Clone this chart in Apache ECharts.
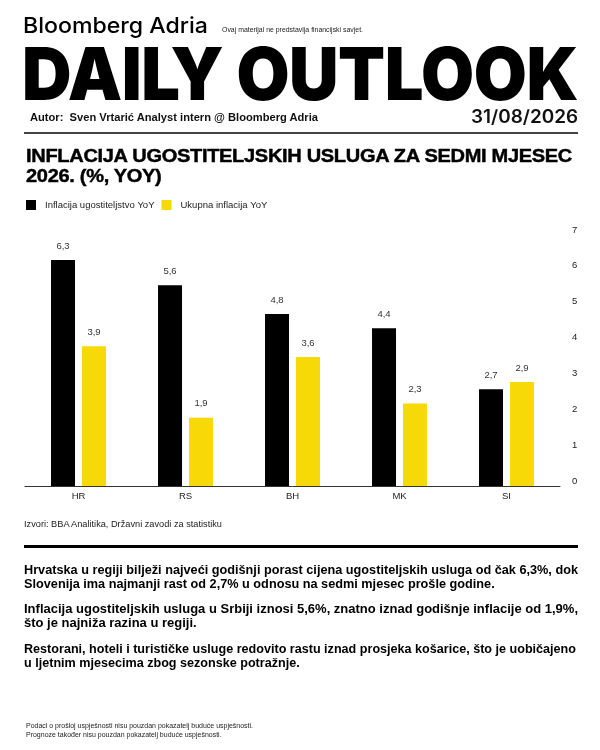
<!DOCTYPE html>
<html>
<head>
<meta charset="utf-8">
<script src="https://cdn.jsdelivr.net/npm/echarts@6/dist/echarts.min.js"></script>
<style>
  html, body { margin: 0; padding: 0; background: #fff; }
  #page { position: relative; width: 600px; height: 750px; overflow: hidden; background: #fff; }
  #chart { position: absolute; left: 0; top: 0; width: 600px; height: 750px; z-index: 0; }
  .t { position: absolute; white-space: nowrap; transform-origin: 0 50%; color: #000; z-index: 1; font-family: "Liberation Sans", Arial, sans-serif; }
  .rule { position: absolute; z-index: 1; }
  .heavy { -webkit-text-stroke: 0.45px #000; }
</style>
</head>
<body>
<div id="page">
  <div id="chart"></div>

  <div class="t" data-w="185" data-c="25" data-s="22" style="left:23px;font-family:Inter,'Liberation Sans',sans-serif;font-weight:500;">Bloomberg Adria</div>
  <div class="t" data-w="141" data-c="29" data-s="7" style="left:222px;color:#222;">Ovaj materijal ne predstavlja financijski savjet.</div>
  <div class="t" data-w="556" data-c="73.5" data-s="73" style="left:22px;font-family:Inter,'Liberation Sans',sans-serif;font-weight:900;letter-spacing:-0.5px;">DAILY OUTLOOK</div>
  <div class="t" data-w="288" data-c="117" data-s="11" style="left:30px;font-weight:bold;color:#111;">Autor:&nbsp; Sven Vrtarić Analyst intern @ Bloomberg Adria</div>
  <div class="t" data-w="107" data-c="117" data-s="18" style="left:471px;font-family:Inter,'Liberation Sans',sans-serif;font-weight:600;color:#111;">31/08/2026</div>
  <div class="rule" style="left:24px;top:132px;width:554px;height:2px;background:#444;"></div>

  <div class="t heavy" id="title1" data-w="546" data-c="155.5" data-s="19" style="left:26px;font-weight:bold;letter-spacing:-0.3px;">INFLACIJA UGOSTITELJSKIH USLUGA ZA SEDMI MJESEC</div>
  <div class="t heavy" data-ref="title1" data-c="175" data-s="19" style="left:26px;font-weight:bold;letter-spacing:-0.3px;">2026. (%, YOY)</div>

  <div class="t" data-w="198" data-c="524" data-s="9" style="left:24px;color:#222;">Izvori: BBA Analitika, Državni zavodi za statistiku</div>
  <div class="rule" style="left:24px;top:545px;width:554px;height:3px;background:#000;"></div>

  <div class="t" id="p1" data-w="554" data-c="570" data-s="13.3" style="left:24px;font-weight:bold;">Hrvatska u regiji bilježi najveći godišnji porast cijena ugostiteljskih usluga od čak 6,3%, dok</div>
  <div class="t" data-ref="p1" data-c="584" data-s="13.3" style="left:24px;font-weight:bold;">Slovenija ima najmanji rast od 2,7% u odnosu na sedmi mjesec prošle godine.</div>
  <div class="t" id="p2" data-w="554" data-c="609" data-s="13.3" style="left:24px;font-weight:bold;">Inflacija ugostiteljskih usluga u Srbiji iznosi 5,6%, znatno iznad godišnje inflacije od 1,9%,</div>
  <div class="t" data-ref="p2" data-c="623" data-s="13.3" style="left:24px;font-weight:bold;">što je najniža razina u regiji.</div>
  <div class="t" id="p3" data-w="552" data-c="649" data-s="13.3" style="left:24px;font-weight:bold;">Restorani, hoteli i turističke usluge redovito rastu iznad prosjeka košarice, što je uobičajeno</div>
  <div class="t" data-ref="p3" data-c="663" data-s="13.3" style="left:24px;font-weight:bold;">u ljetnim mjesecima zbog sezonske potražnje.</div>

  <div class="t" id="f1" data-w="227" data-c="725" data-s="7" style="left:26px;color:#222;">Podaci o prošloj uspješnosti nisu pouzdan pokazatelj buduće uspješnosti.</div>
  <div class="t" data-ref="f1" data-c="734" data-s="7" style="left:26px;color:#222;">Prognoze također nisu pouzdan pokazatelj buduće uspješnosti.</div>
</div>

<script>
// ---- data ----
const categories = ['HR', 'RS', 'BH', 'MK', 'SI'];
const hospitalityInflation = [6.3, 5.6, 4.8, 4.4, 2.7];
const totalInflation = [3.9, 1.9, 3.6, 2.3, 2.9];
const seriesNames = ['Inflacija ugostiteljstvo YoY', 'Ukupna inflacija YoY'];
const yAxisMin = 0;
const yAxisMax = 7;
const yAxisStep = 1;

// ---- text fitting ----
function layoutTexts() {
  const els = Array.from(document.querySelectorAll('.t'));
  const scales = {};
  els.forEach(el => {
    const s = parseFloat(el.dataset.s);
    const c = parseFloat(el.dataset.c);
    el.style.fontSize = s + 'px';
    el.style.lineHeight = s + 'px';
    el.style.top = (c - s / 2) + 'px';
    el.style.transform = 'none';
  });
  els.forEach(el => {
    if (el.dataset.w) {
      const nat = el.getBoundingClientRect().width;
      const sc = parseFloat(el.dataset.w) / nat;
      el.style.transform = 'scaleX(' + sc + ')';
      if (el.id) scales[el.id] = sc;
    }
  });
  els.forEach(el => {
    if (el.dataset.ref && scales[el.dataset.ref]) {
      el.style.transform = 'scaleX(' + scales[el.dataset.ref] + ')';
    }
  });
}
layoutTexts();
if (document.fonts && document.fonts.ready) document.fonts.ready.then(layoutTexts);

// ---- chart ----
const chart = echarts.init(document.getElementById('chart'), null, { renderer: 'canvas' });
const fmt = p => String(p.value).replace('.', ',');
const labelStyle = {
  show: true, position: 'top', distance: 9, color: '#333',
  fontSize: 9.5, fontFamily: 'Liberation Sans', formatter: fmt
};
chart.setOption({
  animation: false,
  backgroundColor: 'transparent',
  textStyle: { fontFamily: 'Liberation Sans' },
  legend: {
    left: 26, top: 200, padding: 0, itemWidth: 10, itemHeight: 10, itemGap: 7,
    icon: 'rect',
    data: seriesNames,
    textStyle: { fontSize: 9.5, color: '#222', padding: [0, 0, 0, 4] }
  },
  grid: { left: 25, right: 40, top: 235, bottom: 264, containLabel: false },
  xAxis: {
    type: 'category',
    data: categories,
    axisLine: { lineStyle: { color: '#333', width: 1 } },
    axisTick: { length: 4, lineStyle: { color: '#333' } },
    axisLabel: { color: '#222', fontSize: 9.5, margin: 5 }
  },
  yAxis: {
    type: 'value',
    position: 'right',
    min: yAxisMin, max: yAxisMax, interval: yAxisStep,
    splitLine: { show: false },
    axisLine: { show: false },
    axisTick: { show: false },
    axisLabel: { color: '#222', fontSize: 9.5, margin: 12, verticalAlign: 'bottom' }
  },
  series: [
    {
      name: seriesNames[0], type: 'bar', data: hospitalityInflation,
      barWidth: 24, barGap: '29%',
      itemStyle: { color: '#000000' },
      label: labelStyle
    },
    {
      name: seriesNames[1], type: 'bar', data: totalInflation,
      barWidth: 24, barGap: '29%',
      itemStyle: { color: '#F7D908' },
      label: labelStyle
    }
  ]
});
</script>
</body>
</html>
